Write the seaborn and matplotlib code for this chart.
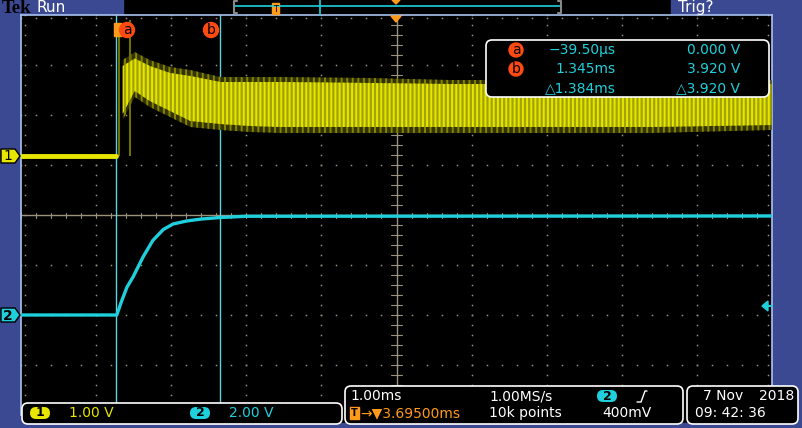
import numpy as np
import pandas as pd
import matplotlib
matplotlib.use("Agg")
import matplotlib.pyplot as plt
import seaborn as sns
from matplotlib.patches import Rectangle, Polygon, Circle, FancyBboxPatch

# scope settings
time_per_div = 1.0          # ms/div
delay = 3.695               # ms, screen centre after trigger
ch1_scale, ch2_scale = 1.0, 2.0   # V/div
ch1_pos, ch2_pos = 1.18, -2.0     # div
cursor_t = [-0.0395, 1.345]       # ms
trig_level = 0.4                  # V (ch2)

# ch1 (yellow) before trigger
ch1_pre_t = [-1.305, -0.04]
ch1_pre_v = [0.0, 0.0]
# trigger spikes on ch1
spike_t = [0.0, 0.14]
spike_v = [2.62, 2.72]
# ch1 ringing envelope after trigger (outer and bright core)
env_t = [0.05, 0.21, 0.41, 0.68, 0.95, 1.35, 1.75, 2.15, 3.35, 4.4, 5.75, 7.1, 8.69]
env_hi = [1.92, 2.08, 1.92, 1.78, 1.72, 1.58, 1.58, 1.58, 1.56, 1.52, 1.52, 1.52, 1.52]
env_lo = [0.72, 1.18, 0.98, 0.78, 0.58, 0.52, 0.48, 0.46, 0.46, 0.46, 0.46, 0.46, 0.52]
core_hi = [1.80, 1.95, 1.80, 1.66, 1.60, 1.48, 1.48, 1.48, 1.46, 1.44, 1.44, 1.44, 1.44]
core_lo = [0.85, 1.30, 1.10, 0.90, 0.70, 0.64, 0.60, 0.58, 0.58, 0.58, 0.58, 0.58, 0.62]

# ch2 (cyan) step response
ch2_t = [-1.305, -0.03, 0.04, 0.107, 0.187, 0.32, 0.45, 0.59, 0.72, 0.9, 1.1, 1.35, 1.7, 8.695]
ch2_v = [0.0, 0.0, 0.6, 1.12, 1.52, 2.32, 2.98, 3.42, 3.64, 3.76, 3.84, 3.9, 3.95, 3.96]


def tx(t):
    return (np.asarray(t) - delay) / time_per_div


def y1(v):
    return np.asarray(v) / ch1_scale + ch1_pos


def y2(v):
    return np.asarray(v) / ch2_scale + ch2_pos


BLUE = "#3b4992"
YEL = "#e6e600"
CYAN = "#1fd0dc"
ORANGE = "#ff9a1a"
RED = "#ff4a12"
DOT = "#9c917c"

sns.set_style("dark")
plt.rcParams["font.family"] = ["DejaVu Sans"]
plt.rcParams["hatch.linewidth"] = 1.4

fig = plt.figure(figsize=(8.02, 4.28), dpi=100, facecolor="black")
W, H = 802, 428

# background chrome (pixel coords)
bg = fig.add_axes([0, 0, 1, 1], zorder=0)
bg.set_xlim(0, W)
bg.set_ylim(H, 0)
bg.axis("off")
bg.add_patch(Rectangle((0, 0), W, H, color="black"))
bg.add_patch(Rectangle((0, 15), 21, H, color=BLUE))
bg.add_patch(Rectangle((772, 15), 30, H, color=BLUE))
bg.add_patch(Rectangle((0, 423), W, 5, color=BLUE))
bg.add_patch(Rectangle((0, 0), 123, 15, color=BLUE))
bg.add_patch(Rectangle((671, 0), 131, 15, color=BLUE))

# scope screen
ax = fig.add_axes([21 / W, 13 / H, 751 / W, 400 / H], zorder=1)
ax.set_facecolor("black")
ax.set_xlim(-5, 5)
ax.set_ylim(-4, 4)
ax.set_xticks([])
ax.set_yticks([])
for s in ax.spines.values():
    s.set_color("#a9c4f0")
    s.set_linewidth(1.2)
ax.spines["bottom"].set_visible(False)

# graticule dots
fine = np.arange(-5, 5.01, 0.2)
fine_y = np.arange(-4, 4.01, 0.2)
for gx in range(-4, 5):
    if gx != 0:
        ax.plot(np.full(fine_y.size, gx), fine_y, ls="none", marker="s", ms=1.1, color=DOT, mew=0)
for gy in range(-3, 4):
    if gy != 0:
        ax.plot(fine, np.full(fine.size, gy), ls="none", marker="s", ms=1.1, color=DOT, mew=0)
ax.axhline(0, color=DOT, lw=1)
ax.axvline(0, color=DOT, lw=1)
ax.plot(fine, np.full(fine.size, 3.95), ls="none", marker="s", ms=1.1, color=DOT, mew=0)
ax.plot(np.full(fine_y.size, 4.95), fine_y, ls="none", marker="s", ms=1.1, color=DOT, mew=0)
ax.plot(np.full(fine_y.size, -4.95), fine_y, ls="none", marker="s", ms=1.1, color=DOT, mew=0)
for f in fine:
    ax.plot([f, f], [-0.05, 0.05], color=DOT, lw=0.8)
for f in fine_y:
    ax.plot([-0.07, 0.07], [f, f], color=DOT, lw=0.8)

# cursors
for ct in cursor_t:
    ax.axvline(tx(ct), color="#5fd3dc", lw=1, zorder=2)

# ch1 trace: dim outer envelope + bright striped core
ax.fill_between(tx(env_t), y1(env_lo), y1(env_hi), facecolor="#333300",
                edgecolor="#858500", hatch="|||", lw=0, zorder=3)
ax.fill_between(tx(env_t), y1(core_lo), y1(core_hi), facecolor="#a3a300",
                edgecolor=YEL, hatch="||||", lw=0, zorder=4)
ax.vlines(tx(spike_t), y1([0, 0]), y1(spike_v), color="#707000", lw=1.5, zorder=3)
df1 = pd.DataFrame({"x": tx(ch1_pre_t), "y": y1(ch1_pre_v)})
sns.lineplot(data=df1, x="x", y="y", ax=ax, color=YEL, lw=3.5, zorder=5)

# ch2 trace
df2 = pd.DataFrame({"x": tx(ch2_t), "y": y2(ch2_v)})
sns.lineplot(data=df2, x="x", y="y", ax=ax, color=CYAN, lw=2.4, zorder=5, sort=False)
ax.set_xlabel("")
ax.set_ylabel("")

# overlay chrome
ov = fig.add_axes([0, 0, 1, 1], zorder=2)
ov.set_xlim(0, W)
ov.set_ylim(H, 0)
ov.axis("off")
ov.patch.set_alpha(0)

ov.text(2, 8.5, "Tek", color="black", fontsize=13.5, fontweight="bold", family="Liberation Serif",
        va="center", ha="left")
ov.text(37, 7.5, "Run", color="white", fontsize=11, va="center", ha="left")
ov.text(678, 7.5, "Trig?", color="white", fontsize=11, va="center", ha="left")

# record view bar
ov.plot([235, 560], [6, 6], color=CYAN, lw=1.2)
ov.plot([237, 234, 234, 237], [1, 1, 13, 13], color="#888888", lw=1.5)
ov.plot([558, 561, 561, 558], [1, 1, 13, 13], color="#888888", lw=1.5)
ov.plot([320, 320], [0, 15], color=CYAN, lw=1.2)
ov.add_patch(Rectangle((272, 3), 7, 11, color=ORANGE))
ov.text(275.5, 9, "T", color="black", fontsize=6, ha="center", va="center")
ov.add_patch(Polygon([[392, 0], [400, 0], [396, 4]], color=ORANGE))
ov.add_patch(Polygon([[391, 16], [401, 16], [396, 22]], color=ORANGE))

# channel markers
ov.add_patch(Polygon([[1, 149], [15, 149], [20, 156], [15, 163], [1, 163]],
                     facecolor=YEL, edgecolor="black", lw=1))
ov.text(8, 156, "1", color="black", fontsize=10, ha="center", va="center")
ov.add_patch(Polygon([[1, 308], [15, 308], [20, 315], [15, 322], [1, 322]],
                     facecolor=CYAN, edgecolor="black", lw=1))
ov.text(8, 315.5, "2", color="black", fontsize=10, fontweight="bold", ha="center", va="center")
ov.add_patch(Polygon([[762, 306], [768, 301], [768, 311]], color=CYAN))
ov.plot([766, 772], [306, 306], color=CYAN, lw=1.5)

# cursor flags
ov.add_patch(Rectangle((114, 23), 7, 13, color=ORANGE))
for cx, name in zip([127, 211], ["a", "b"]):
    ov.add_patch(Circle((cx, 30), 7.5, color=RED))
    ov.text(cx, 29.5, name, color="black", fontsize=10, ha="center", va="center")

# cursor readout box
ov.add_patch(FancyBboxPatch((486, 40), 283, 57, boxstyle="round,pad=0,rounding_size=6",
                            facecolor="black", edgecolor="white", lw=1.2))
for cy, name in zip([50, 69], ["a", "b"]):
    ov.add_patch(Circle((516, cy), 7, color=RED))
    ov.text(516, cy - 0.5, name, color="black", fontsize=10, ha="center", va="center")
rows = [("\u221239.50\u00b5s", "0.000 V"), ("1.345ms", "3.920 V"), ("\u25b31.384ms", "\u25b33.920 V")]
for cy, (tv, vv) in zip([50, 69, 88], rows):
    ov.text(616, cy, tv, color=CYAN, fontsize=10, ha="right", va="center")
    ov.text(740, cy, vv, color=CYAN, fontsize=10, ha="right", va="center")


# bottom boxes
def box(x0, y0, w, h):
    ov.add_patch(FancyBboxPatch((x0, y0), w, h, boxstyle="round,pad=0,rounding_size=6",
                                facecolor="black", edgecolor="white", lw=1.2))


def pill(cx, cy, color, label):
    ov.add_patch(FancyBboxPatch((cx - 10, cy - 6), 20, 12, boxstyle="round,pad=0,rounding_size=6",
                                facecolor=color, edgecolor="none"))
    ov.text(cx, cy, label, color="black", fontsize=9, fontweight="bold", ha="center", va="center")


box(22, 403, 320, 21)
pill(40, 413, YEL, "1")
ov.text(69, 413, "1.00 V", color=YEL, fontsize=10, va="center")
pill(200, 413, CYAN, "2")
ov.text(229, 413, "2.00 V", color=CYAN, fontsize=10, va="center")

box(345, 386, 338, 38)
ov.text(350, 396, "1.00ms", color="white", fontsize=10, va="center")
ov.text(489, 396, "1.00MS/s", color="white", fontsize=10, va="center")
pill(607, 396, CYAN, "2")
ov.plot([637, 641, 645, 647], [402, 402, 391, 391], color="white", lw=1)
ov.add_patch(Rectangle((350, 407), 9, 12, color=ORANGE))
ov.text(354.5, 413, "T", color="black", fontsize=7, fontweight="bold", ha="center", va="center")
ov.text(360, 413, "\u2192\u25bc3.69500ms", color=ORANGE, fontsize=10, va="center")
ov.text(489, 413, "10k points", color="white", fontsize=10, va="center")
ov.text(652, 413, "400mV", color="white", fontsize=10, va="center", ha="right")

box(687, 386, 111, 38)
ov.text(703, 396, "7 Nov", color="white", fontsize=10, va="center")
ov.text(794, 396, "2018", color="white", fontsize=10, va="center", ha="right")
ov.text(695, 413, "09: 42: 36", color="white", fontsize=10, va="center")

fig.savefig("out.png", dpi=100, facecolor="black")
